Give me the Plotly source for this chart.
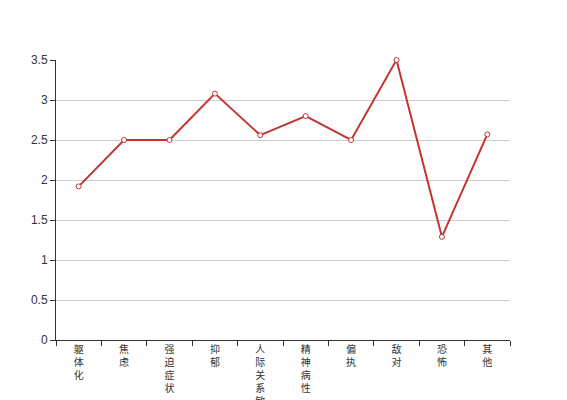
import plotly.graph_objects as go

categories = ["躯体化", "焦虑", "强迫症状", "抑郁", "人际关系敏感", "精神病性", "偏执", "敌对", "恐怖", "其他"]
values = [1.92, 2.5, 2.5, 3.08, 2.56, 2.8, 2.5, 3.5, 1.29, 2.57]
y_ticks = [0, 0.5, 1, 1.5, 2, 2.5, 3, 3.5]
y_tick_labels = ["0", "0.5", "1", "1.5", "2", "2.5", "3", "3.5"]

tick_text = ["<br>".join(list(c)) for c in categories]

fig = go.Figure()
fig.add_trace(go.Scatter(
    x=categories, y=values, mode="lines+markers",
    line=dict(color="#c23531", width=2),
    marker=dict(symbol="circle", size=5, color="#ffffff",
                line=dict(color="#c23531", width=1)),
    hoverinfo="x+y",
    cliponaxis=False,
))

# page body has an 8px default margin, so the figure is sized to compensate
fig.update_layout(
    width=559, height=392,
    margin=dict(l=48, r=57, t=52, b=60),
    paper_bgcolor="white", plot_bgcolor="white",
    showlegend=False,
    font=dict(family="Liberation Sans, Arial, sans-serif", color="#333", size=12),
)
fig.update_xaxes(
    type="category",
    tickmode="array", tickvals=categories, ticktext=tick_text,
    tickson="boundaries",
    ticks="outside", ticklen=5, tickcolor="#333",
    showline=True, linecolor="#333", linewidth=1,
    showgrid=False, zeroline=False,
    tickangle=0,
    automargin=False,
    tickfont=dict(family="Noto Sans CJK SC", size=10, color="#333"),
    range=[-0.5, len(categories) - 0.5],
    fixedrange=True,
)
fig.update_yaxes(
    range=[0, 3.5],
    tickmode="array", tickvals=y_ticks, ticktext=y_tick_labels,
    ticks="outside", ticklen=5, tickcolor="#333",
    showline=True, linecolor="#333", linewidth=1,
    showgrid=True, gridcolor="#ccc", gridwidth=1,
    zeroline=False,
    automargin=False,
    tickfont=dict(size=12, color="#333"),
    fixedrange=True,
)

fig.write_html("out.html")
